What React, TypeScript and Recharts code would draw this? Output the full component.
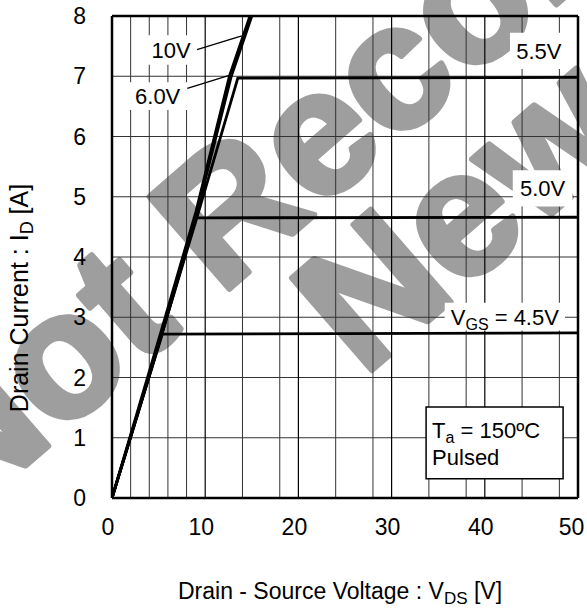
import React from 'react';
import {
  LineChart,
  Line,
  XAxis,
  YAxis,
  CartesianGrid,
  ReferenceArea,
  ReferenceLine,
  Label,
} from 'recharts';

const FONT = '"Liberation Sans", Arial, Helvetica, sans-serif';

// Drain current curves (V_DS [V], I_D [A]) for each V_GS
const curve10V = [
  { v: 0, i: 0 },
  { v: 5.3, i: 2.78 },
  { v: 9.0, i: 4.75 },
  { v: 12.6, i: 7.0 },
  { v: 14.8, i: 8.0 },
];
const curve6V = [
  { v: 0, i: 0 },
  { v: 5.4, i: 2.75 },
  { v: 9.05, i: 4.7 },
  { v: 12.8, i: 7.0 },
  { v: 15.0, i: 8.0 },
];
const curve5p5V = [
  { v: 0, i: 0 },
  { v: 5.4, i: 2.75 },
  { v: 9.1, i: 4.65 },
  { v: 13.5, i: 6.97 },
  { v: 50, i: 6.98 },
];
const curve5V = [
  { v: 0, i: 0 },
  { v: 5.4, i: 2.75 },
  { v: 9.0, i: 4.65 },
  { v: 50, i: 4.66 },
];
const curve4p5V = [
  { v: 0, i: 0 },
  { v: 5.4, i: 2.72 },
  { v: 50, i: 2.74 },
];

const xTicks = [0, 10, 20, 30, 40, 50];
const yTicks = [0, 1, 2, 3, 4, 5, 6, 7, 8];
const minorX = [2, 4, 6, 8, 12, 14, 16, 18, 22, 24, 26, 28, 32, 34, 36, 38, 42, 44, 46, 48];
const majorX = [10, 20, 30, 40];
const gridY = [1, 2, 3, 4, 5, 6, 7];

const FS = 22;

const centerText = (txt: string) => (props: any) => {
  const { x, y, width, height } = props.viewBox;
  return (
    <text
      x={x + width / 2}
      y={y + height / 2 + FS * 0.36}
      textAnchor="middle"
      fontFamily={FONT}
      fontSize={FS}
      fill="#000"
    >
      {txt}
    </text>
  );
};

const vgsLabel = (props: any) => {
  const { x, y, width, height } = props.viewBox;
  return (
    <text
      x={x + width / 2}
      y={y + height / 2 + FS * 0.36}
      textAnchor="middle"
      fontFamily={FONT}
      fontSize={FS}
      fill="#000"
    >
      V<tspan dy={5} fontSize={16}>GS</tspan>
      <tspan dy={-5}> = 4.5V</tspan>
    </text>
  );
};

const taLabel = (props: any) => {
  const { x, y } = props.viewBox;
  return (
    <text fontFamily={FONT} fontSize={FS} fill="#000">
      <tspan x={x + 6} y={y + 31}>T</tspan>
      <tspan dy={5} fontSize={16}>a</tspan>
      <tspan dy={-5}> = 150ºC</tspan>
      <tspan x={x + 6} y={y + 58}>Pulsed</tspan>
    </text>
  );
};

const xLabel = () => (
  <text x={340} y={599} textAnchor="middle" fontFamily={FONT} fontSize={23} fill="#000">
    Drain - Source Voltage : V<tspan dy={5} fontSize={17}>DS</tspan>
    <tspan dy={-5}> [V]</tspan>
  </text>
);

const yLabel = () => (
  <text
    transform="translate(28,298) rotate(-90)"
    textAnchor="middle"
    fontFamily={FONT}
    fontSize={25}
    fill="#000"
  >
    Drain Current : I<tspan dy={5} fontSize={18}>D</tspan>
    <tspan dy={-5}> [A]</tspan>
  </text>
);

export default function App() {
  const lineProps = {
    dataKey: 'i',
    type: 'linear' as const,
    stroke: '#000',
    strokeWidth: 2.8,
    dot: false,
    activeDot: false,
    isAnimationActive: false,
  };
  return (
    <div style={{ position: 'absolute', left: 0, top: 0, width: 587, height: 609, background: '#fff' }}>
      <svg width={587} height={609} style={{ position: 'absolute', left: 0, top: 0 }}>
        <g
          transform="translate(677,-100.5) rotate(-41)"
          fill="#9e9e9e"
          stroke="#9e9e9e"
          strokeWidth={6}
          strokeLinejoin="round"
          fontFamily={FONT}
          fontWeight="bold"
          fontSize={177}
          textAnchor="middle"
        >
          <text x={0} y={0}>Not Recommended for</text>
          <text x={0} y={155}>New Designs</text>
        </g>
      </svg>
      <div style={{ position: 'absolute', left: 0, top: 0 }}>
        <LineChart width={587} height={609} margin={{ top: 16, right: 9, bottom: 0, left: 0 }}>
          <CartesianGrid
            verticalValues={minorX}
            horizontalValues={gridY}
            stroke="#333"
            strokeWidth={1}
          />
          <CartesianGrid verticalValues={majorX} horizontal={false} stroke="#000" strokeWidth={1.2} />
          <XAxis
            type="number"
            dataKey="v"
            domain={[0, 50]}
            ticks={xTicks}
            allowDataOverflow
            height={111}
            tickLine={false}
            tickSize={0}
            tickMargin={21}
            axisLine={{ stroke: '#000', strokeWidth: 2.5 }}
            tick={{ fill: '#000', fontSize: 23, fontFamily: FONT, dx: -4 }}
          >
            <Label content={xLabel} />
          </XAxis>
          <YAxis
            type="number"
            domain={[0, 8]}
            ticks={yTicks}
            allowDataOverflow
            width={112}
            tickLine={false}
            tickSize={0}
            tickMargin={26}
            axisLine={{ stroke: '#000', strokeWidth: 2.5 }}
            tick={{ fill: '#000', fontSize: 23, fontFamily: FONT }}
          >
            <Label content={yLabel} />
          </YAxis>
          <ReferenceLine x={50} stroke="#000" strokeWidth={2.5} />
          <ReferenceLine y={8} stroke="#000" strokeWidth={2.5} />

          <ReferenceArea x1={3.8} x2={8.9} y1={7.19} y2={7.68} fill="#fff" fillOpacity={1} stroke="none" label={centerText('10V')} />
          <ReferenceArea x1={1.7} x2={8.1} y1={6.44} y2={6.9} fill="#fff" fillOpacity={1} stroke="none" label={centerText('6.0V')} />
          <ReferenceArea x1={42.7} x2={48.9} y1={7.12} y2={7.72} fill="#fff" fillOpacity={1} stroke="none" label={centerText('5.5V')} />
          <ReferenceArea x1={43.0} x2={49.4} y1={4.84} y2={5.44} fill="#fff" fillOpacity={1} stroke="none" label={centerText('5.0V')} />
          <ReferenceArea x1={35.7} x2={48.6} y1={2.78} y2={3.24} fill="#fff" fillOpacity={1} stroke="none" label={vgsLabel} />
          <ReferenceArea x1={33.7} x2={48.4} y1={0.32} y2={1.51} fill="#fff" fillOpacity={1} stroke="#000" strokeWidth={1.5} label={taLabel} />

          <ReferenceLine segment={[{ x: 9.12, y: 7.44 }, { x: 13.92, y: 7.67 }]} stroke="#000" strokeWidth={1.3} />
          <ReferenceLine segment={[{ x: 8.08, y: 6.8 }, { x: 12.66, y: 7.02 }]} stroke="#000" strokeWidth={1.3} />

          <Line data={curve4p5V} {...lineProps} />
          <Line data={curve5V} {...lineProps} />
          <Line data={curve5p5V} {...lineProps} />
          <Line data={curve6V} {...lineProps} />
          <Line data={curve10V} {...lineProps} />
        </LineChart>
      </div>
    </div>
  );
}
